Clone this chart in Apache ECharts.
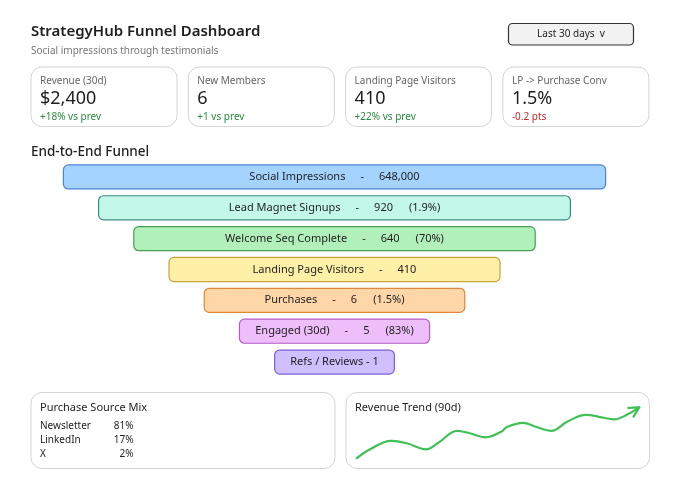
<!DOCTYPE html>
<html><head><meta charset="utf-8">
<script src="https://cdn.jsdelivr.net/npm/echarts@6/dist/echarts.min.js"></script>
<style>html,body{margin:0;padding:0;background:#fff}#c{width:680px;height:492px}</style>
</head><body><div id="c"></div>
<script>
const FONT = '"Noto Sans", sans-serif';
const titleText = 'StrategyHub Funnel Dashboard';
const subtitleText = 'Social impressions through testimonials';
const rangeLabel = 'Last 30 days  v';
const kpiLabels = ['Revenue (30d)', 'New Members', 'Landing Page Visitors', 'LP -> Purchase Conv'];
const kpiValues = ['$2,400', '6', '410', '1.5%'];
const kpiDeltas = ['+18% vs prev', '+1 vs prev', '+22% vs prev', '-0.2 pts'];
const kpiUp = [true, true, true, false];
const funnelTitle = 'End-to-End Funnel';
const stageNames = ['Social Impressions', 'Lead Magnet Signups', 'Welcome Seq Complete', 'Landing Page Visitors', 'Purchases', 'Engaged (30d)', 'Refs / Reviews'];
const stageValues = [648000, 920, 640, 410, 6, 5, 1];
const stagePct = ['', '1.9%', '70%', '', '1.5%', '83%', ''];
const mixTitle = 'Purchase Source Mix';
const sourceNames = ['Newsletter', 'LinkedIn', 'X'];
const sourceShares = ['81%', '17%', '2%'];
const trendTitle = 'Revenue Trend (90d)';
const trendDays = [0, 4, 11, 16, 22, 26, 32, 36, 41, 46, 48, 53, 57, 62, 67, 73, 78, 82, 86, 90];
const trendRevenue = [0, 17, 35, 30, 18, 31, 55, 50, 42, 53, 63, 71, 63, 55, 73, 87, 82, 78, 87, 102];

const fills = ['#a5d3ff', '#c3f8e8', '#b2f0bb', '#fff0a8', '#ffd6a8', '#eebefa', '#d0bfff'];
const strokes = ['#4c84d6', '#3a8c80', '#45a055', '#c9a23c', '#e0873a', '#b35cc6', '#7b5fd6'];
const INK = '#1e1e1e';

const chart = echarts.init(document.getElementById('c'), null, {renderer: 'canvas'});

function txt(x, y, text, size, fill, opts) {
  return Object.assign({type: 'text', x: x, y: y, silent: true,
    style: Object.assign({text: text, fontSize: size, fontFamily: FONT, fill: fill, align: 'left', verticalAlign: 'middle'}, (opts && opts.style) || {})
  }, (opts && opts.el) || {});
}
function box(x, y, w, h, r, fill, stroke, lw) {
  return {type: 'rect', silent: true, shape: {x: x, y: y, width: w, height: h, r: r},
    style: {fill: fill, stroke: stroke, lineWidth: lw}};
}

const graphics = [];
graphics.push(txt(31, 32, titleText, 15, INK, {style: {fontWeight: 600}}));
graphics.push(txt(31, 51, subtitleText, 10, '#777'));
graphics.push(box(508.5, 23.5, 125, 21.5, 4, '#f2f2f2', '#333', 1.2));
graphics.push(txt(571, 34.5, rangeLabel, 10, INK, {style: {align: 'center'}}));

kpiLabels.forEach(function (lab, k) {
  const x = 31 + k * 157.3;
  graphics.push(box(x, 67, 146, 59.5, 11, '#fff', '#d4d4d4', 1));
  graphics.push(txt(x + 9, 81, lab, 10, '#666'));
  graphics.push(txt(x + 9, 99, kpiValues[k], 18, INK));
  graphics.push(txt(x + 9, 117.5, kpiDeltas[k], 10, kpiUp[k] ? '#2b8a3e' : '#c92a2a'));
});

graphics.push(txt(31, 152, funnelTitle, 13.5, INK, {style: {fontWeight: 500}}));

graphics.push(box(31, 392.5, 304, 76, 11, '#fff', '#d4d4d4', 1));
graphics.push(txt(40, 407.5, mixTitle, 11, INK));
sourceNames.forEach(function (nm, k) {
  graphics.push(txt(40, 426 + k * 14, nm, 10, INK));
  graphics.push(txt(133.5, 426 + k * 14, sourceShares[k], 10, INK, {style: {align: 'right'}}));
});
graphics.push(box(346, 392.5, 303.5, 76, 11, '#fff', '#d4d4d4', 1));
graphics.push(txt(355, 407.5, trendTitle, 11, INK));

const nStages = stageNames.length;

const option = {
  backgroundColor: '#fff',
  animation: false,
  graphic: graphics,
  grid: [
    {left: 0, width: 669, top: 161.5, height: 216},
    {left: 356.7, top: 403.3, width: 282.6, height: 55}
  ],
  xAxis: [
    {gridIndex: 0, type: 'value', min: -9.5, max: 9.5, show: false},
    {gridIndex: 1, type: 'value', min: 0, max: 90, show: false}
  ],
  yAxis: [
    {gridIndex: 0, type: 'category', data: stageNames, inverse: true, show: false},
    {gridIndex: 1, type: 'value', min: 0, max: 110, show: false}
  ],
  series: [
    {
      type: 'custom', xAxisIndex: 0, yAxisIndex: 0,
      data: stageValues.map(function (v, i) { return [0, i, v]; }),
      encode: {x: 0, y: 1},
      renderItem: function (params, api) {
        const i = api.value(1);
        const v = api.value(2);
        const level = nStages - i;
        const yc = api.coord([0, i])[1];
        const h = api.size([0, 1])[1] * 0.78;
        const xl = api.coord([-(level + 0.7), i])[0];
        const xr = api.coord([level + 0.7, i])[0];
        const valStr = v.toLocaleString('en-US');
        let text;
        if (i === nStages - 1) {
          text = '{t|' + stageNames[i] + ' - ' + valStr + '}';
        } else {
          text = '{t|' + stageNames[i] + '}{d|-}{t|' + valStr + '}' + (stagePct[i] ? '{p|(' + stagePct[i] + ')}' : '');
        }
        const base = {fontSize: 11, fontFamily: FONT, fill: INK};
        return {
          type: 'group',
          children: [
            {type: 'rect', shape: {x: xl, y: yc - h / 2, width: xr - xl, height: h, r: 5},
              style: {fill: fills[i], stroke: strokes[i], lineWidth: 1.2}},
            {type: 'text', x: (xl + xr) / 2, y: yc,
              style: {text: text, align: 'center', verticalAlign: 'middle', fontSize: 11, fontFamily: FONT, fill: INK,
                rich: {
                  t: base,
                  d: Object.assign({}, base, {padding: [0, 15, 0, 15]}),
                  p: Object.assign({}, base, {padding: [0, 0, 0, 16]})
                }}}
          ]
        };
      }
    },
    {
      type: 'line', xAxisIndex: 1, yAxisIndex: 1,
      data: trendDays.map(function (d, i) { return [d, trendRevenue[i]]; }),
      smooth: 0.4, showSymbol: false, symbol: 'none',
      lineStyle: {color: '#40c057', width: 2.2, cap: 'round'}
    },
    {
      type: 'custom', xAxisIndex: 1, yAxisIndex: 1,
      data: [[trendDays[trendDays.length - 2], trendRevenue[trendRevenue.length - 2], trendDays[trendDays.length - 1], trendRevenue[trendRevenue.length - 1]]],
      renderItem: function (params, api) {
        const p1 = api.coord([api.value(0), api.value(1)]);
        const p2 = api.coord([api.value(2), api.value(3)]);
        const ang = Math.atan2(p1[1] - p2[1], p1[0] - p2[0]);
        const L = 11, spread = 0.48;
        const a = [p2[0] + L * Math.cos(ang + spread), p2[1] + L * Math.sin(ang + spread)];
        const b = [p2[0] + L * Math.cos(ang - spread), p2[1] + L * Math.sin(ang - spread)];
        return {type: 'polyline', shape: {points: [a, p2, b]},
          style: {fill: 'none', stroke: '#40c057', lineWidth: 2.2, lineCap: 'round', lineJoin: 'round'}};
      }
    }
  ]
};
chart.setOption(option);
</script>
</body></html>
